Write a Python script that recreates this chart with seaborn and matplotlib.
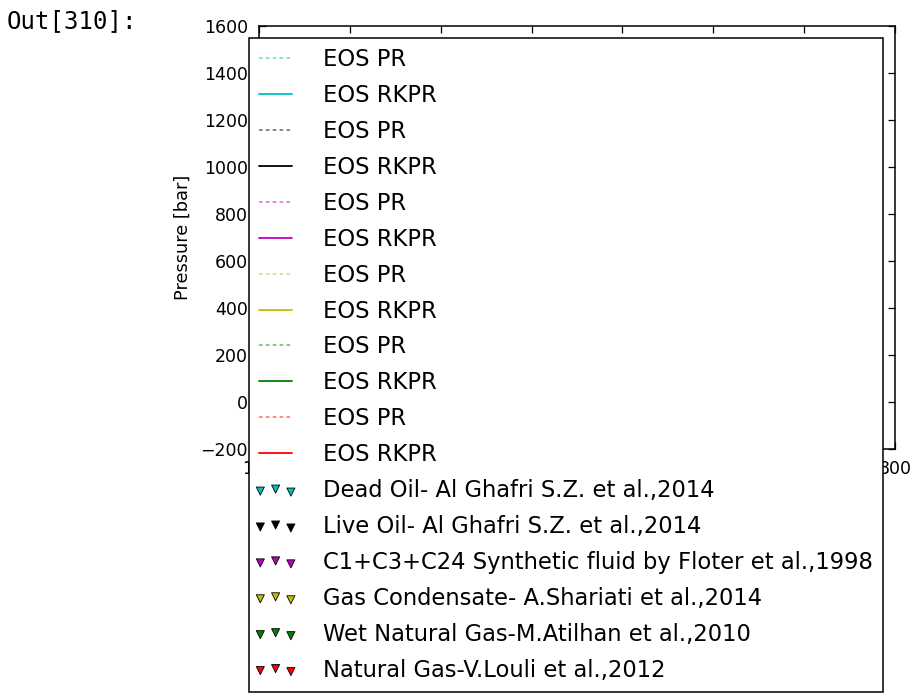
import matplotlib
matplotlib.use("Agg")
import matplotlib.pyplot as plt
from matplotlib.collections import PathCollection
from matplotlib.legend_handler import HandlerPathCollection
import seaborn as sns

# Phase-envelope data: temperature [K] and pressure [bar]
dead_oil_T = [323, 348, 373, 398, 423]
dead_oil_P = [92, 104, 117, 128, 139]
dead_oil_eos_T = [300, 330, 360, 390, 420, 450]
dead_oil_pr_P = [80, 95, 110, 124, 137, 149]
dead_oil_rkpr_P = [84, 99, 114, 127, 140, 151]

live_oil_T = [323, 348, 373, 398, 423]
live_oil_P = [186, 199, 210, 219, 226]
live_oil_eos_T = [300, 330, 360, 390, 420, 450]
live_oil_pr_P = [170, 188, 203, 215, 224, 230]
live_oil_rkpr_P = [175, 192, 206, 218, 226, 231]

synth_T = [313, 333, 353, 373, 393, 413, 433]
synth_P = [255, 262, 266, 268, 268, 266, 263]
synth_eos_T = [300, 340, 380, 420, 460]
synth_pr_P = [240, 252, 258, 258, 254]
synth_rkpr_P = [248, 259, 265, 265, 261]

cond_T = [260, 290, 320, 350, 380, 400]
cond_P = [310, 352, 380, 392, 386, 360]
cond_eos_T = [250, 280, 310, 340, 370, 400, 420, 430]
cond_pr_P = [285, 330, 362, 378, 376, 352, 310, 240]
cond_rkpr_P = [298, 342, 373, 389, 386, 361, 318, 248]

wet_gas_T = [220, 240, 260, 280, 300]
wet_gas_P = [98, 104, 102, 90, 66]
wet_gas_eos_T = [200, 220, 240, 260, 280, 300, 310]
wet_gas_pr_P = [85, 95, 100, 98, 87, 64, 42]
wet_gas_rkpr_P = [90, 99, 104, 101, 90, 66, 44]

nat_gas_T = [200, 220, 240, 260, 270]
nat_gas_P = [80, 88, 86, 70, 52]
nat_gas_eos_T = [180, 200, 220, 240, 260, 275]
nat_gas_pr_P = [66, 77, 84, 82, 66, 40]
nat_gas_rkpr_P = [70, 81, 88, 85, 68, 42]

colors = [(0, 0.75, 0.75), "k", (0.75, 0, 0.75), (0.75, 0.75, 0), (0, 0.5, 0), (1, 0, 0)]
ref_labels = [
    "Dead Oil- Al Ghafri S.Z. et al.,2014",
    "Live Oil- Al Ghafri S.Z. et al.,2014",
    "C1+C3+C24 Synthetic fluid by Floter et al.,1998",
    "Gas Condensate- A.Shariati et al.,2014",
    "Wet Natural Gas-M.Atilhan et al.,2010",
    "Natural Gas-V.Louli et al.,2012",
]
x_ticks = [100, 200, 300, 400, 500, 600, 700, 800]
y_ticks = [-200, 0, 200, 400, 600, 800, 1000, 1200, 1400, 1600]

sns.set_style("ticks", {
    "xtick.direction": "in", "ytick.direction": "in",
    "xtick.top": True, "ytick.right": True,
    "axes.edgecolor": "black", "xtick.color": "black", "ytick.color": "black",
    "text.color": "black", "axes.labelcolor": "black",
})
plt.rcParams["font.family"] = ["DejaVu Sans"]

fig = plt.figure(figsize=(9.10, 6.98), dpi=100)
ax = fig.add_axes([259 / 910, 1 - 449 / 698, 636 / 910, 423 / 698])

experimental = [
    (dead_oil_T, dead_oil_P), (live_oil_T, live_oil_P), (synth_T, synth_P),
    (cond_T, cond_P), (wet_gas_T, wet_gas_P), (nat_gas_T, nat_gas_P),
]
models = [
    (dead_oil_eos_T, dead_oil_pr_P, dead_oil_rkpr_P),
    (live_oil_eos_T, live_oil_pr_P, live_oil_rkpr_P),
    (synth_eos_T, synth_pr_P, synth_rkpr_P),
    (cond_eos_T, cond_pr_P, cond_rkpr_P),
    (wet_gas_eos_T, wet_gas_pr_P, wet_gas_rkpr_P),
    (nat_gas_eos_T, nat_gas_pr_P, nat_gas_rkpr_P),
]

dotted = (0, (2.0, 1.8))
for (t, p_pr, p_rkpr), col in zip(models, colors):
    sns.lineplot(x=t, y=p_pr, ax=ax, color=col, linestyle=dotted, linewidth=1.3,
                 alpha=0.5, sort=False, estimator=None, label="EOS PR")
    sns.lineplot(x=t, y=p_rkpr, ax=ax, color=col, linestyle="-", linewidth=1.3,
                 sort=False, estimator=None, label="EOS RKPR")

for (t, p), col, lab in zip(experimental, colors, ref_labels):
    sns.scatterplot(x=t, y=p, ax=ax, color=col, marker="v", s=34,
                    edgecolor="k", linewidth=0.6, label=lab)

ax.set_xlim(100, 800)
ax.set_ylim(-200, 1600)
ax.set_xticks(x_ticks)
ax.set_yticks(y_ticks)
ax.tick_params(axis="both", which="major", length=5, width=0.9, pad=8, labelsize=12.5)
for sp in ax.spines.values():
    sp.set_linewidth(1.1)
    sp.set_color("black")
ax.set_xlabel("")
ax.set_ylabel("Pressure [bar]", fontsize=12.8, labelpad=6)

handles, labels = ax.get_legend_handles_labels()
leg = ax.legend(handles, labels, loc="upper left",
                bbox_to_anchor=(-10 / 636, (449 - 38) / 423), borderaxespad=0,
                fontsize=16.3, scatterpoints=3, handlelength=1.45,
                handletextpad=1.36, labelspacing=0.57, borderpad=0.45,
                fancybox=False, framealpha=1, edgecolor="black",
                handler_map={PathCollection: HandlerPathCollection(marker_pad=0.05)})
leg.get_frame().set_linewidth(1.1)

fig.text(7 / 910, 1 - 28 / 698, "Out[310]:", family="DejaVu Sans Mono",
         fontsize=17.3, va="baseline", ha="left", color="black")

fig.savefig("out.png", dpi=100)
